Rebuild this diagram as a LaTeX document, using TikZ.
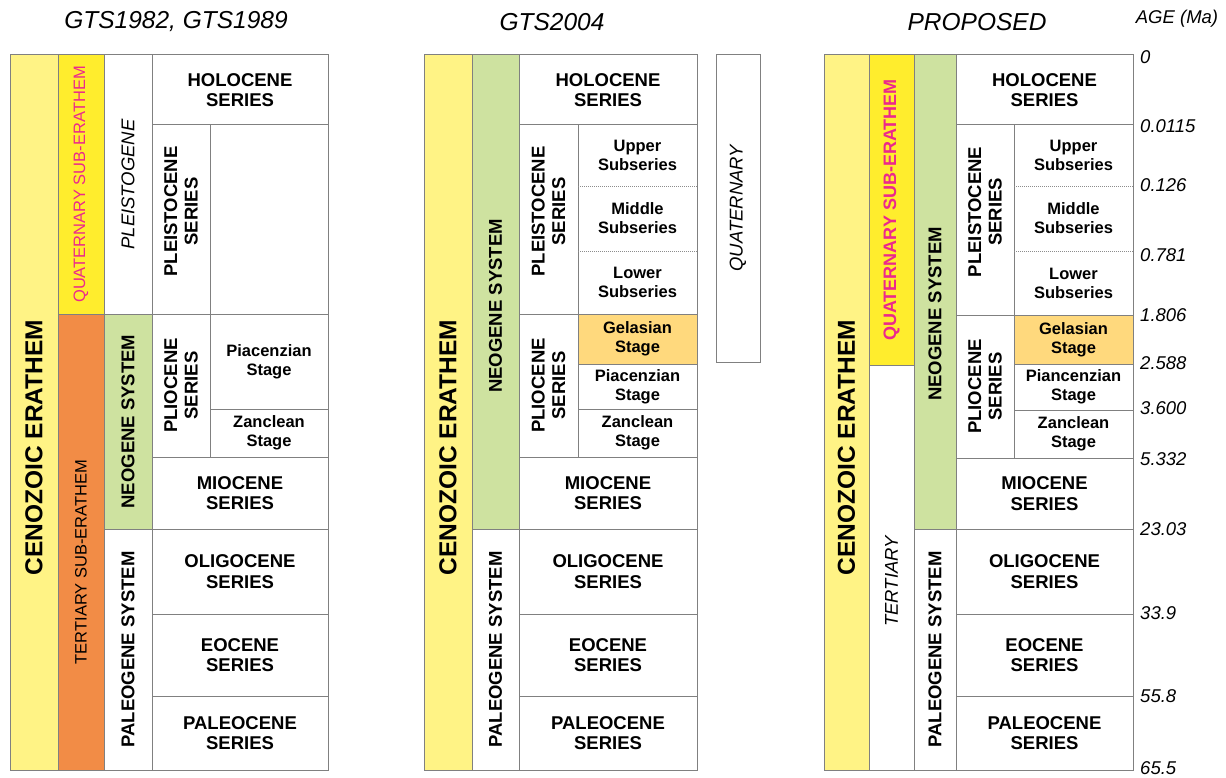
\documentclass[tikz,border=0pt]{standalone}
\usepackage{fontspec}
\setmainfont{Liberation Sans}
\usepackage{tikz}
\usetikzlibrary{positioning}
\definecolor{cenozoic}{RGB}{255,243,133}
\definecolor{quatyellow}{RGB}{255,237,45}
\definecolor{tertorange}{RGB}{242,140,70}
\definecolor{neogreen}{RGB}{206,226,160}
\definecolor{gelasian}{RGB}{255,217,125}
\definecolor{quatpink}{RGB}{236,40,140}
\newcommand{\erafont}{\fontsize{24.5}{27}\selectfont\bfseries}
\newcommand{\subfont}{\fontsize{16.5}{19}\selectfont}
\newcommand{\sysfont}{\fontsize{18.5}{21}\selectfont}
\newcommand{\serfont}{\fontsize{18.5}{20.5}\selectfont\bfseries}
\newcommand{\stgfont}{\fontsize{16.5}{19}\selectfont\bfseries}
\newcommand{\ttlfont}{\fontsize{24.5}{27}\selectfont\itshape}
\newcommand{\agefont}{\fontsize{18.5}{21}\selectfont\itshape}
\tikzstyle{cell} = [draw=black!50, line width=1pt, fill=white]
\tikzstyle{era} = [rotate=90, font=\erafont]
\tikzstyle{suberapink} = [rotate=90, font=\subfont, text=quatpink]
\tikzstyle{subera} = [rotate=90, font=\subfont]
\tikzstyle{sys} = [rotate=90, font=\sysfont\bfseries]
\tikzstyle{informal} = [rotate=90, font=\sysfont\itshape]
\tikzstyle{series} = [align=center, font=\serfont]
\tikzstyle{vseries} = [rotate=90, align=center, font=\serfont]
\tikzstyle{stage} = [align=center, font=\stgfont]
\tikzstyle{title} = [font=\ttlfont]
\tikzstyle{age} = [anchor=west, font=\agefont, inner sep=0pt]
\tikzstyle{subdiv} = [draw=black!45, line width=0.8pt, dash pattern=on 1pt off 1pt]
% one filled box with its label in the middle
\newcommand{\cell}[8][]{%
  \filldraw[cell,#2] (#4,#5) rectangle (#6,#7);
  \node[#1] (#3) at ({(#4+#6)/2},{(#5+#7)/2}) {#8};}

\begin{document}
\begin{tikzpicture}[x=1pt, y=-1pt]
\useasboundingbox (0,0) rectangle (1226,778);
% Titles
\node[title] (ttlold) at (176,22) {GTS1982, GTS1989};
\node[title] (ttlgts) at (552,22) {GTS2004};
\node[title] (ttlnew) at (977,22) {PROPOSED};
\node[font=\agefont] (ttlage) at (1177,19) {AGE (Ma)};

% GTS1982, GTS1989
\cell[yshift=-35pt,era]{fill=cenozoic}{cenA}{10}{55}{58}{770}{CENOZOIC ERATHEM}
\cell[suberapink]{fill=quatyellow}{quatA}{58}{55}{104}{314}{QUATERNARY SUB-ERATHEM}
\cell[yshift=-20pt,subera]{fill=tertorange}{tertA}{58}{314}{104}{770}{TERTIARY SUB-ERATHEM}
\cell[informal]{}{pgA}{104}{55}{152}{314}{PLEISTOGENE}
\cell[sys]{fill=neogreen}{neoA}{104}{314}{152}{529}{NEOGENE SYSTEM}
\cell[sys]{}{palA}{104}{529}{152}{770}{PALEOGENE SYSTEM}
\cell[series]{}{holoA}{152}{55}{328}{125}{HOLOCENE\\SERIES}
\cell[yshift=8pt,vseries]{}{pleiA}{152}{125}{210}{314}{PLEISTOCENE\\SERIES}
\filldraw[cell] (210,125) rectangle (328,314);
\cell[vseries]{}{plioA}{152}{314}{210}{457}{PLIOCENE\\SERIES}
\cell[stage]{}{piacA}{210}{314}{328}{409}{Piacenzian\\Stage}
\cell[stage]{}{zancA}{210}{409}{328}{457}{Zanclean\\Stage}
\cell[series]{}{mioA}{152}{457}{328}{529}{MIOCENE\\SERIES}
\cell[series]{}{oliA}{152}{529}{328}{614}{OLIGOCENE\\SERIES}
\cell[series]{}{eoA}{152}{614}{328}{696}{EOCENE\\SERIES}
\cell[series]{}{paleoA}{152}{696}{328}{770}{PALEOCENE\\SERIES}

% GTS2004
\cell[yshift=-35pt,era]{fill=cenozoic}{cenB}{424}{55}{472}{770}{CENOZOIC ERATHEM}
\cell[yshift=-14pt,sys]{fill=neogreen}{neoB}{472}{55}{519}{529}{NEOGENE SYSTEM}
\cell[sys]{}{palB}{472}{529}{519}{770}{PALEOGENE SYSTEM}
\cell[series]{}{holoB}{519}{55}{697}{125}{HOLOCENE\\SERIES}
\cell[yshift=8pt,vseries]{}{pleiB}{519}{125}{578}{314}{PLEISTOCENE\\SERIES}
\node[stage] (uppB) at (637.5,155.5) {Upper\\Subseries};
\node[stage] (midB) at (637.5,218.5) {Middle\\Subseries};
\node[stage] (lowB) at (637.5,282.5) {Lower\\Subseries};
\draw[subdiv] (578,186) -- (697,186);
\draw[subdiv] (578,251) -- (697,251);
\draw[cell] (697,125) -- (697,314);
\cell[vseries]{}{plioB}{519}{314}{578}{457}{PLIOCENE\\SERIES}
\cell[stage]{fill=gelasian}{gelB}{578}{314}{697}{364}{Gelasian\\Stage}
\cell[stage]{}{piacB}{578}{364}{697}{409}{Piacenzian\\Stage}
\cell[stage]{}{zancB}{578}{409}{697}{457}{Zanclean\\Stage}
\cell[series]{}{mioB}{519}{457}{697}{529}{MIOCENE\\SERIES}
\cell[series]{}{oliB}{519}{529}{697}{614}{OLIGOCENE\\SERIES}
\cell[series]{}{eoB}{519}{614}{697}{696}{EOCENE\\SERIES}
\cell[series]{}{paleoB}{519}{696}{697}{770}{PALEOCENE\\SERIES}
\cell[informal]{}{quatB}{716}{55}{760}{362}{QUATERNARY}

% PROPOSED
\cell[yshift=-35pt,era]{fill=cenozoic}{cenC}{824}{55}{869}{770}{CENOZOIC ERATHEM}
\cell[suberapink,font=\fontsize{18}{21}\selectfont\bfseries]{fill=quatyellow}{quatC}{869}{55}{914}{365}{QUATERNARY SUB-ERATHEM}
\cell[yshift=-14pt,informal]{}{tertC}{869}{365}{914}{770}{TERTIARY}
\cell[yshift=-22pt,sys]{fill=neogreen}{neoC}{914}{55}{956}{529}{NEOGENE SYSTEM}
\cell[sys]{}{palC}{914}{529}{956}{770}{PALEOGENE SYSTEM}
\cell[series]{}{holoC}{956}{55}{1133}{125}{HOLOCENE\\SERIES}
\cell[yshift=8pt,vseries]{}{pleiC}{956}{125}{1014}{315}{PLEISTOCENE\\SERIES}
\node[stage] (uppC) at (1073.5,155.5) {Upper\\Subseries};
\node[stage] (midC) at (1073.5,218.5) {Middle\\Subseries};
\node[stage] (lowC) at (1073.5,283) {Lower\\Subseries};
\draw[subdiv] (1014,186) -- (1133,186);
\draw[subdiv] (1014,251) -- (1133,251);
\draw[cell] (1133,125) -- (1133,315);
\cell[vseries]{}{plioC}{956}{315}{1014}{458}{PLIOCENE\\SERIES}
\cell[stage]{fill=gelasian}{gelC}{1014}{315}{1133}{364}{Gelasian\\Stage}
\cell[stage]{}{piacC}{1014}{364}{1133}{410}{Piancenzian\\Stage}
\cell[stage]{}{zancC}{1014}{410}{1133}{458}{Zanclean\\Stage}
\cell[series]{}{mioC}{956}{458}{1133}{529}{MIOCENE\\SERIES}
\cell[series]{}{oliC}{956}{529}{1133}{614}{OLIGOCENE\\SERIES}
\cell[series]{}{eoC}{956}{614}{1133}{696}{EOCENE\\SERIES}
\cell[series]{}{paleoC}{956}{696}{1133}{770}{PALEOCENE\\SERIES}

% Ages
\node[age] (age0) at (1140,57) {0};
\node[age] (age1) at (1140,126) {0.0115};
\node[age] (age2) at (1140,185) {0.126};
\node[age] (age3) at (1140,255) {0.781};
\node[age] (age4) at (1140,315) {1.806};
\node[age] (age5) at (1140,363) {2.588};
\node[age] (age6) at (1140,408) {3.600};
\node[age] (age7) at (1140,459) {5.332};
\node[age] (age8) at (1140,529) {23.03};
\node[age] (age9) at (1140,613) {33.9};
\node[age] (age10) at (1140,696) {55.8};
\node[age] (age11) at (1140,768) {65.5};
\end{tikzpicture}
\end{document}
